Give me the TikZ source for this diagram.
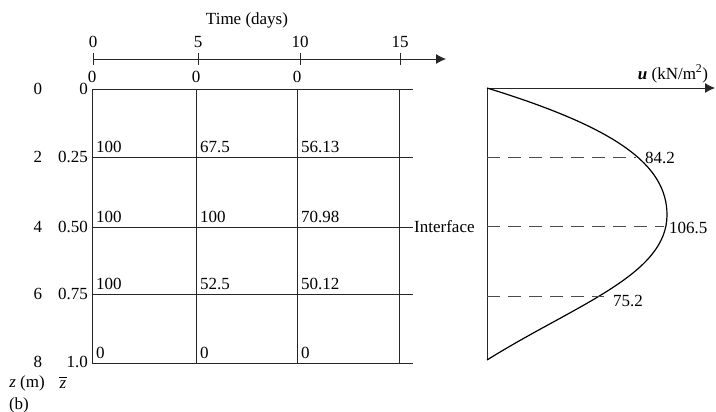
\documentclass[tikz,border=0pt]{standalone}
\usepackage{fontspec}
\setmainfont{Liberation Serif}
\usetikzlibrary{arrows.meta}
\begin{document}
\begin{tikzpicture}[x=1pt,y=-1pt,
  font=\fontsize{17}{19}\selectfont,
  gridline/.style={line width=0.8pt, black!85},
  axisline/.style={line width=0.8pt, black!85, -{Latex[length=10pt,width=10pt]}},
  tickline/.style={line width=0.8pt, black!85},
  val/.style={anchor=south west, inner sep=0pt, xshift=4pt, yshift=4.5pt},
  topval/.style={anchor=south, inner sep=0pt, yshift=6.5pt},
  zlab/.style={inner sep=0pt},
  zbar/.style={anchor=east, inner sep=0pt},
  dashline/.style={line width=0.8pt, black!70, dash pattern=on 13pt off 8pt},
  curveline/.style={line width=1.2pt, black},
  ulab/.style={anchor=west, inner sep=0pt}]
\useasboundingbox (0,0) rectangle (716,412);

% time axis
\node (title) at (247,20) {Time (days)};
\coordinate (tstart) at (93,59);
\coordinate (tend) at (446,59);
\draw[axisline] (tstart) -- (tend);
\foreach \i/\x/\lab in {0/93/0,1/198/5,2/300/10,3/400/15}{
  \coordinate (tka\i) at (\x,53);
  \coordinate (tkb\i) at (\x,65);
  \draw[tickline] (tka\i) -- (tkb\i);
  \node (tl\i) at (\x,42) {\lab};
}

% grid coordinates
\foreach \c/\x in {0/92,1/196,2/297,3/399}{
  \foreach \r/\y in {0/89,1/157,2/227,3/294,4/363}{
    \coordinate (g-\c-\r) at (\x,\y);
  }
}
\foreach \r/\y in {0/89,1/157,3/294,4/363}{
  \coordinate (e-\r) at (413,\y);
  \draw[gridline] (g-0-\r) -- (e-\r);
}
\node[anchor=west, inner sep=1pt] (iface) at (413,227) {Interface};
\draw[gridline] (g-0-2) -- (iface.west);
\foreach \c in {0,1,2,3}{
  \draw[gridline] (g-\c-0) -- (g-\c-4);
}

% values
\node[topval] (v00) at (g-0-0) {0};
\node[topval] (v10) at (g-1-0) {0};
\node[topval] (v20) at (g-2-0) {0};
\node[val] (v01) at (g-0-1) {100};
\node[val] (v11) at (g-1-1) {67.5};
\node[val] (v21) at (g-2-1) {56.13};
\node[val] (v02) at (g-0-2) {100};
\node[val] (v12) at (g-1-2) {100};
\node[val] (v22) at (g-2-2) {70.98};
\node[val] (v03) at (g-0-3) {100};
\node[val] (v13) at (g-1-3) {52.5};
\node[val] (v23) at (g-2-3) {50.12};
\node[val] (v04) at (g-0-4) {0};
\node[val] (v14) at (g-1-4) {0};
\node[val] (v24) at (g-2-4) {0};

% left labels
\foreach \r/\y/\za/\zb in {0/89/0/0,1/157/2/0.25,2/227/4/0.50,3/294/6/0.75,4/362/8/1.0}{
  \node[zlab] (za\r) at (38,\y) {\za};
  \node[zbar] (zb\r) at (88,\y) {\zb};
}
\node[inner sep=0pt] (zm) at (27,383) {\textit{z} (m)};
\node[inner sep=0pt] (zbarlab) at (63,383) {\textit{z}\llap{\rule[0.62em]{0.48em}{0.7pt}\hspace{-0.04em}}};
\node[inner sep=0pt] (blab) at (19,405) {(b)};

% right diagram
\coordinate (O) at (487,88);
\coordinate (B) at (487,360);
\coordinate (uend) at (715,88);
\draw[gridline] (O) -- (B);
\draw[axisline] (O) -- (uend);
\node[inner sep=0pt] (ulabel) at (673,74) {\textbf{\textit{u}} (kN/m\textsuperscript{2})};

\coordinate (peak) at (667,215);
\draw[curveline] (O) .. controls (617,128) and (667,165) .. (peak)
                     .. controls (667,275) and (575,305) .. (B);

\coordinate (d1a) at (487,157);
\coordinate (d1b) at (636,157);
\coordinate (d2a) at (487,226);
\coordinate (d2b) at (664,226);
\coordinate (d3a) at (487,296);
\coordinate (d3b) at (604,296);
\draw[dashline] (d1a) -- (d1b);
\draw[dashline] (d2a) -- (d2b);
\draw[dashline] (d3a) -- (d3b);
\node[ulab] (l1) at (645,158) {84.2};
\node[ulab] (l2) at (669,228) {106.5};
\node[ulab] (l3) at (613,301) {75.2};
\end{tikzpicture}
\end{document}
